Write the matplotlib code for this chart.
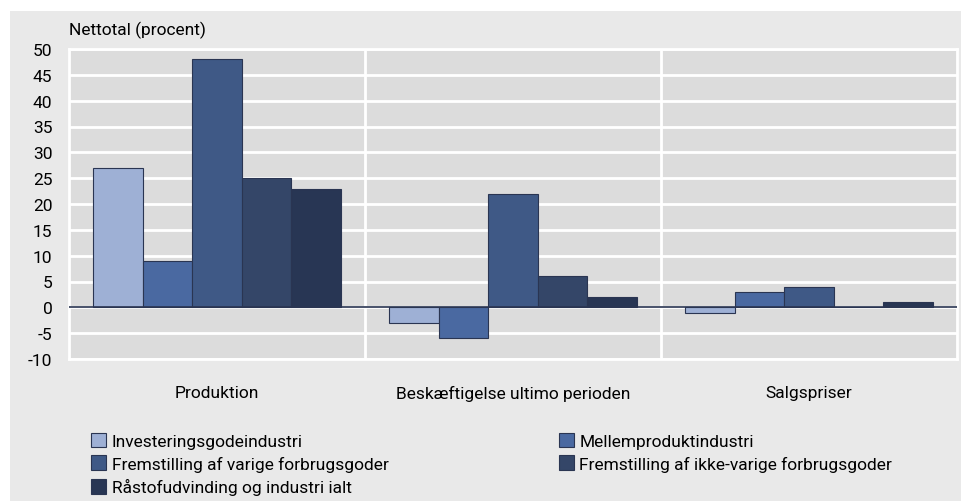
import numpy as np
import matplotlib.pyplot as plt
from matplotlib.patches import Rectangle, Patch

# Data
categories = ["Produktion", "Beskæftigelse ultimo perioden", "Salgspriser"]
series_names = [
    "Investeringsgodeindustri",
    "Mellemproduktindustri",
    "Fremstilling af varige forbrugsgoder",
    "Fremstilling af ikke-varige forbrugsgoder",
    "Råstofudvinding og industri ialt",
]
investering = [27, -3, -1]
mellemprodukt = [9, -6, 3]
varige = [48, 22, 4]
ikke_varige = [25, 6, 0]
raastof = [23, 2, 1]
yticks = list(range(-10, 55, 5))

colors = ["#9eb0d5", "#4a69a1", "#3f5986", "#344668", "#283654"]
edge = "#2a3552"

plt.rcParams['font.family'] = ['Roboto', 'DejaVu Sans']
fs = 12.5

fig = plt.figure(figsize=(9.61, 5.02), dpi=100)
fig.patch.set_facecolor("white")
fig.patches.append(Rectangle((10 / 961, 0), 1, 1 - 12 / 502, transform=fig.transFigure,
                             facecolor="#e9e9e9", edgecolor="none", zorder=-5))

ax = fig.add_axes([69 / 961, 1 - 360 / 502, (957 - 69) / 961, 310 / 502])
ax.set_facecolor("#dcdcdc")

values = [investering, mellemprodukt, varige, ikke_varige, raastof]
x = np.arange(len(categories))
w = 0.167
for i, vals in enumerate(values):
    ax.bar(x + (i - 2) * w, vals, width=w, color=colors[i], edgecolor=edge,
           linewidth=0.8, zorder=3)

ax.axhline(0, color=edge, linewidth=1.2, zorder=4)
ax.set_xlim(-0.5, 2.5)
ax.set_ylim(-10, 50)
ax.set_yticks(yticks)
ax.set_yticklabels([str(t) for t in yticks], fontsize=fs)
ax.set_xticks(x)
ax.set_xticklabels(categories, fontsize=fs)
ax.tick_params(axis="y", length=0, pad=12)
ax.tick_params(axis="x", length=0, pad=19)
ax.grid(axis="y", color="white", linewidth=2, zorder=1)
for xv in [0.5, 1.5]:
    ax.axvline(xv, color="white", linewidth=2, zorder=1)
for s in ax.spines.values():
    s.set_color("white")
    s.set_linewidth(2)

fig.text(69 / 961, 1 - 30 / 502, "Nettotal (procent)", fontsize=fs, va="center", ha="left")

handles = [Patch(facecolor=c, edgecolor=edge, linewidth=0.8) for c in colors]
order = [0, 2, 4, 1, 3]
fig.legend([handles[i] for i in order], [series_names[i] for i in order],
           ncol=2, loc="upper left", bbox_to_anchor=(82 / 961, 1 - 425 / 502),
           frameon=False, fontsize=fs, handlelength=0.9, handleheight=0.9,
           handletextpad=0.3, labelspacing=0.38, columnspacing=9.8, borderpad=0)

fig.savefig("out.png", dpi=100, facecolor=fig.get_facecolor())
